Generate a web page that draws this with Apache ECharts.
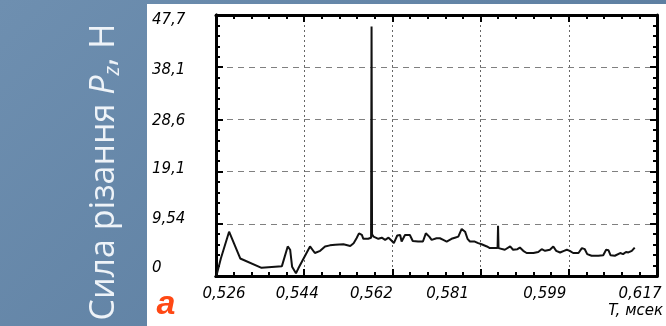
<!DOCTYPE html>
<html><head><meta charset="utf-8">
<script src="https://cdn.jsdelivr.net/npm/echarts@6/dist/echarts.min.js"></script>
<style>
html,body{margin:0;padding:0;width:666px;height:326px;overflow:hidden}
body{background:linear-gradient(135deg,#6e8fb0 0%,#56789b 100%);position:relative}
#panel{position:absolute;left:147px;top:4px;width:519px;height:322px;background:#fff}
#c{position:absolute;left:0;top:0;width:666px;height:326px}
</style>
</head><body><div id="panel"></div><div id="c"></div>
<script>
// ---- data (time in ms, cutting force in N) ----
const T0 = 0.526;          // first x tick, ms
const xSpanUs = 91;        // axis span, µs (0.526 .. 0.617 ms)
const xStepUs = 18.2;      // tick step, µs
const yMax = 47.7;
const yStep = 9.54;
const xTickLabels = ['0,526', '0,544', '0,562', '0,581', '0,599', '0,617'];
const yTickLabels = ['0', '9,54', '19,1', '28,6', '38,1', '47,7'];
const xAxisName = 'T, мсек';
const yTitleMain = 'Сила різання ';
const yTitleSym = 'P';
const yTitleSub = 'z';
const yTitleUnit = ', Н';
const panelTag = 'а';

const timeMs = [0.5261, 0.5270, 0.5287, 0.5310, 0.5354, 0.5396, 0.5400, 0.5408, 0.5413, 0.5417,
  0.5425, 0.5430, 0.5454, 0.5464, 0.5475, 0.5485, 0.5495, 0.5506, 0.5523, 0.5537,
  0.5544, 0.5550, 0.5555, 0.5561, 0.5564, 0.5574, 0.5580, 0.5581, 0.5582, 0.5585,
  0.5595, 0.5602, 0.5609, 0.5616, 0.5623, 0.5627, 0.5634, 0.5640, 0.5643, 0.5650,
  0.5660, 0.5666, 0.5677, 0.5687, 0.5693, 0.5700, 0.5705, 0.5715, 0.5722, 0.5729,
  0.5736, 0.5746, 0.5753, 0.5760, 0.5767, 0.5774, 0.5779, 0.5784, 0.5794, 0.5801,
  0.5808, 0.5819, 0.5825, 0.5836, 0.5841, 0.5842, 0.5843, 0.5856, 0.5867, 0.5873,
  0.5882, 0.5887, 0.5894, 0.5901, 0.5915, 0.5925, 0.5932, 0.5939, 0.5949, 0.5956,
  0.5962, 0.5970, 0.5978, 0.5984, 0.5990, 0.5997, 0.6008, 0.6015, 0.6021, 0.6026,
  0.6035, 0.6049, 0.6059, 0.6065, 0.6070, 0.6074, 0.6083, 0.6094, 0.6100, 0.6106,
  0.6111, 0.6118, 0.6124];
const forceN = [0.1, 3.2, 8.1, 3.2, 1.5, 1.8, 2.1, 5.4, 4.8, 1.7,
  0.5, 1.4, 5.4, 4.2, 4.6, 5.4, 5.6, 5.7, 5.8, 5.5,
  6.0, 6.9, 7.8, 7.5, 6.8, 6.8, 7.0, 45.6, 7.6, 7.2,
  6.8, 7.0, 6.6, 7.0, 6.4, 6.0, 7.4, 7.5, 6.3, 7.5,
  7.5, 6.4, 6.3, 6.3, 7.8, 7.2, 6.6, 6.9, 6.9, 6.6,
  6.3, 6.8, 7.0, 7.2, 8.6, 8.1, 6.8, 6.3, 6.3, 6.0,
  5.8, 5.4, 5.1, 5.1, 5.1, 9.2, 5.1, 4.8, 5.4, 4.8,
  4.9, 5.2, 4.6, 4.2, 4.2, 4.4, 4.9, 4.6, 4.8, 5.4,
  4.6, 4.3, 4.6, 4.8, 4.6, 4.2, 4.2, 5.1, 4.9, 4.0,
  3.7, 3.7, 3.8, 4.8, 4.7, 3.8, 3.7, 4.2, 4.0, 4.4,
  4.3, 4.6, 5.2];

// ---- styling ----
const labelFont = 'DejaVu Sans';
const xLabelShift = [8, -7, -21, -33, -24, -17];
const yLabelShift = [-8, -5, -2, 2, 3, 5];

const xRich = {}, yRich = {};
xLabelShift.forEach((d, i) => {
  xRich['x' + i] = { fontFamily: labelFont, fontSize: 15, fontStyle: 'italic', color: '#000',
    padding: d > 0 ? [0, 0, 0, 2 * d] : [0, -2 * d, 0, 0] };
});
yLabelShift.forEach((d, i) => {
  yRich['y' + i] = { fontFamily: labelFont, fontSize: 15, fontStyle: 'italic', color: '#000',
    padding: d > 0 ? [2 * d, 0, 0, 0] : [0, 0, -2 * d, 0] };
});

const seriesData = timeMs.map((t, i) => [+((t - T0) * 1000).toFixed(2), forceN[i]]);

function mkLine() { return { show: true, onZero: false, lineStyle: { color: '#000', width: 3 } }; }
// axes used only to draw the inward ticks on all four sides
function tickAxis(pos, max, step) {
  return {
    type: 'value', position: pos, min: 0, max: max, interval: step,
    axisLine: mkLine(),
    axisTick: { show: true, inside: true, length: 7, lineStyle: { color: '#000', width: 2 } },
    minorTick: { show: true, splitNumber: 5, length: 4, lineStyle: { color: '#000', width: 2 } },
    axisLabel: { show: true, inside: true, fontSize: 4, color: 'rgba(0,0,0,0)' },
    splitLine: { show: true, lineStyle: { color: 'rgba(0,0,0,0)' } }
  };
}
const titleColor = '#eef3f8';

const chart = echarts.init(document.getElementById('c'), null, { renderer: 'canvas' });
chart.setOption({
  animation: false,
  backgroundColor: 'transparent',
  grid: { left: 216, top: 15, right: 9, bottom: 50, containLabel: false, outerBoundsMode: 'none' },
  graphic: [
    { type: 'text', x: 104, y: 172, rotation: Math.PI / 2,
      style: {
        text: '{n|' + yTitleMain + '}{p|' + yTitleSym + '}{s|' + yTitleSub + '}{n|' + yTitleUnit + '}',
        align: 'center', verticalAlign: 'middle', fill: titleColor,
        rich: {
          n: { fontFamily: 'Open Sans', fontSize: 34, lineHeight: 40, fill: titleColor },
          p: { fontFamily: 'Open Sans', fontSize: 34, lineHeight: 40, fontStyle: 'italic', fill: titleColor },
          s: { fontFamily: 'Open Sans', fontSize: 21, lineHeight: 24, fontStyle: 'italic', verticalAlign: 'bottom', fill: titleColor }
        }
      } },
    { type: 'text', x: 166, y: 305,
      style: { text: panelTag, fontFamily: 'Liberation Sans', fontSize: 34, fontWeight: 'bold', fontStyle: 'italic',
        fill: '#ff4814', align: 'center', verticalAlign: 'middle' } }
  ],
  xAxis: [
    { type: 'value', position: 'bottom', min: 0, max: xSpanUs, interval: xStepUs,
      axisLine: mkLine(), axisTick: { show: false }, minorTick: { show: false },
      splitLine: { show: true, lineStyle: { color: '#666', width: 1, type: [2, 3] } },
      axisLabel: { show: true, margin: 11, formatter: (v, i) => '{x' + i + '|' + xTickLabels[i] + '}', rich: xRich },
      name: xAxisName, nameLocation: 'end', nameGap: 6,
      nameTextStyle: { fontFamily: labelFont, fontSize: 15, fontStyle: 'italic', color: '#000',
        align: 'right', verticalAlign: 'top', padding: [28, 0, 0, 0] } },
    tickAxis('top', xSpanUs, xStepUs),
    tickAxis('bottom', xSpanUs, xStepUs)
  ],
  yAxis: [
    { type: 'value', position: 'left', min: 0, max: yMax, interval: yStep,
      axisLine: mkLine(), axisTick: { show: false }, minorTick: { show: false },
      splitLine: { show: true, lineStyle: { color: '#808080', width: 1, type: [6, 5] } },
      axisLabel: { show: true, align: 'left', margin: 64,
        formatter: (v, i) => '{y' + i + '|' + yTickLabels[i] + '}', rich: yRich } },
    tickAxis('right', yMax, yStep),
    tickAxis('left', yMax, yStep)
  ],
  series: [{
    type: 'line', xAxisIndex: 0, yAxisIndex: 0, data: seriesData,
    showSymbol: false, symbol: 'none', z: 5,
    lineStyle: { color: '#111', width: 2 }
  }]
});
</script></body></html>
